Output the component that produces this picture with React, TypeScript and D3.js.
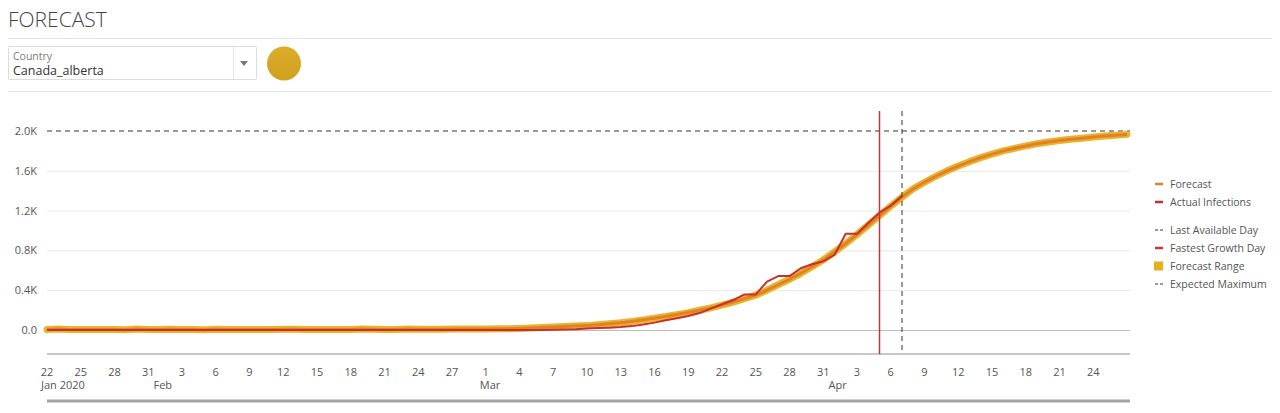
import React from "react";
import * as d3 from "d3";

const width = 1280;
const height = 413;

// first day of the series
const startDay = new Date(Date.UTC(2020, 0, 22));

// forecast, one value per day from Jan 22 to Apr 27
const forecast = [
  4, 9, 6, 4, 6, 5, 4, 2, 9, 6, 5, 7, 6, 4, 2, 8, 6, 5, 6, 5,
  4, 8, 7, 5, 6, 5, 4, 6, 9, 7, 6, 5, 9, 8, 7, 8, 10, 9, 11, 10,
  12, 13, 16, 20, 25, 30, 35, 40, 44, 52, 62, 72, 86, 102, 118, 135,
  155, 175, 198, 222, 250, 280, 315, 350, 400, 455, 510, 570, 635, 705,
  785, 870, 960, 1055, 1150, 1245, 1335, 1420, 1485, 1545, 1600, 1648,
  1692, 1732, 1768, 1800, 1826, 1850, 1872, 1890, 1905, 1918, 1928, 1940,
  1950, 1958, 1966,
];

// actual infections, Jan 22 to Apr 7
const actual = [
  0, 0, 0, 0, 0, 0, 0, 0, 0, 0, 0, 0, 0, 0, 0, 0, 0, 0, 0, 0,
  0, 0, 0, 0, 0, 0, 0, 0, 0, 0, 0, 0, 0, 0, 0, 0, 0, 0, 0, 0,
  0, 0, 0, 1, 1, 2, 4, 7, 14, 19, 23, 29, 39, 56, 74, 97, 119, 140,
  170, 215, 259, 301, 358, 358, 486, 542, 542, 621, 661, 690, 754,
  968, 968, 1075, 1181, 1250, 1348,
];

const expectedMaximum = 2000;
const fastestGrowthDay = new Date(Date.UTC(2020, 3, 5));
const lastAvailableDay = new Date(Date.UTC(2020, 3, 7));

const yTicks = [0, 400, 800, 1200, 1600, 2000];
const yTickLabels = ["0.0", "0.4K", "0.8K", "1.2K", "1.6K", "2.0K"];

const monthLabels = ["Jan 2020", "Feb", "Mar", "Apr"];
const monthStarts = [
  new Date(Date.UTC(2020, 0, 22)),
  new Date(Date.UTC(2020, 1, 1)),
  new Date(Date.UTC(2020, 2, 1)),
  new Date(Date.UTC(2020, 3, 1)),
];

const legendItems = [
  { label: "Forecast", kind: "line", color: "#e2802a" },
  { label: "Actual Infections", kind: "line", color: "#c8302f" },
  { label: "Last Available Day", kind: "dash", color: "#333" },
  { label: "Fastest Growth Day", kind: "line", color: "#b8393d" },
  { label: "Forecast Range", kind: "square", color: "#e3b21e" },
  { label: "Expected Maximum", kind: "dash", color: "#333" },
];
const legendY = [184, 202, 230, 248, 266, 284];

const font = "'Open Sans', 'Noto Sans', sans-serif";

export default function App() {
  const left = 47;
  const right = 1130;
  const plotTop = 111;
  const plotBottom = 354;

  const dates = forecast.map((_, i) => d3.utcDay.offset(startDay, i));
  const x = d3
    .scaleUtc()
    .domain([startDay, dates[dates.length - 1]])
    .range([left, 1127]);
  const y = d3.scaleLinear().domain([0, 2000]).range([330, 131]);

  // every third day, but not the last day at the right edge
  const ticks = dates.filter((_, i) => i % 3 === 0 && i < dates.length - 1);
  const dayFmt = d3.utcFormat("%-d");

  const line = d3
    .line<number>()
    .x((_, i) => x(dates[i]))
    .y((d) => y(d))
    .curve(d3.curveLinear);

  return (
    <svg
      width={width}
      height={height}
      style={{ position: "absolute", left: 0, top: 0, background: "#fff" }}
      fontFamily={font}
    >
      {/* header */}
      <text x={8} y={27} fontSize={21} fontWeight={300} fill="#444">
        FORECAST
      </text>
      <line x1={8} x2={1272} y1={38.5} y2={38.5} stroke="#e6e6e6" />
      <rect x={8.5} y={46.5} width={248} height={33} fill="#fff" stroke="#dcdcdc" rx={1} />
      <text x={13} y={60} fontSize={10.5} fill="#7a7a7a">
        Country
      </text>
      <text x={13} y={74.5} fontSize={12.5} fill="#333">
        Canada_alberta
      </text>
      <line x1={233.5} x2={233.5} y1={47} y2={79} stroke="#e6e6e6" />
      <path d="M240,61 L248,61 L244,66 Z" fill="#777" />
      <defs>
        <linearGradient id="gold" x1="0" y1="0" x2="0" y2="1">
          <stop offset="0" stopColor="#dcae2c" />
          <stop offset="1" stopColor="#cf9f1e" />
        </linearGradient>
      </defs>
      <circle cx={284} cy={63.5} r={17} fill="url(#gold)" />
      <line x1={8} x2={1272} y1={91.5} y2={91.5} stroke="#e6e6e6" />

      {/* grid */}
      {yTicks.map((t, i) => (
        <g key={t}>
          {t !== 0 && t !== expectedMaximum && (
            <line x1={left} x2={right} y1={y(t) + 0.5} y2={y(t) + 0.5} stroke="#e9e9e9" />
          )}
          {t === 0 && (
            <line x1={left} x2={right} y1={y(t) + 0.5} y2={y(t) + 0.5} stroke="#bdbdbd" />
          )}
          <text x={37} y={y(t) + 4} textAnchor="end" fontSize={11} fill="#555">
            {yTickLabels[i]}
          </text>
        </g>
      ))}
      <line x1={left} x2={right} y1={plotBottom} y2={plotBottom} stroke="#b5b5b5" strokeWidth={1.5} />

      {/* expected maximum */}
      <line
        x1={left}
        x2={right}
        y1={y(expectedMaximum)}
        y2={y(expectedMaximum)}
        stroke="#333"
        strokeDasharray="5,4"
      />

      {/* forecast range + forecast */}
      <path d={line(forecast) || ""} fill="none" stroke="#e8b52a" strokeWidth={7} strokeLinejoin="round" strokeLinecap="round" />
      <path d={line(forecast) || ""} fill="none" stroke="#e2802a" strokeWidth={3} strokeLinejoin="round" />

      {/* actual */}
      <path d={line(actual) || ""} fill="none" stroke="#c8302f" strokeWidth={2} strokeLinejoin="round" />

      {/* fastest growth & last available */}
      <line
        x1={x(fastestGrowthDay)}
        x2={x(fastestGrowthDay)}
        y1={plotTop}
        y2={plotBottom}
        stroke="#b8393d"
        strokeWidth={1.5}
      />
      <line
        x1={x(lastAvailableDay)}
        x2={x(lastAvailableDay)}
        y1={plotTop}
        y2={plotBottom}
        stroke="#333"
        strokeDasharray="5,4"
      />

      {/* x axis */}
      {ticks.map((t) => (
        <text key={+t} x={x(t)} y={376} textAnchor="middle" fontSize={11} fill="#555">
          {dayFmt(t)}
        </text>
      ))}
      {monthStarts.map((m, i) => (
        <text key={monthLabels[i]} x={x(m) - 6} y={389} fontSize={11} fill="#555">
          {monthLabels[i]}
        </text>
      ))}
      <line x1={left} x2={right} y1={401} y2={401} stroke="#a3a3a3" strokeWidth={3} />

      {/* legend */}
      {legendItems.map((it, i) => (
        <g key={it.label} transform={`translate(1155,${legendY[i]})`}>
          {it.kind === "line" && <line x1={0} x2={8} y1={0} y2={0} stroke={it.color} strokeWidth={2.5} />}
          {it.kind === "dash" && (
            <line x1={0} x2={8} y1={0} y2={0} stroke={it.color} strokeWidth={1} strokeDasharray="3,2" />
          )}
          {it.kind === "square" && <rect x={-1} y={-4.5} width={9} height={9} fill={it.color} />}
          <text x={15} y={4} fontSize={10.5} fill="#555">
            {it.label}
          </text>
        </g>
      ))}
    </svg>
  );
}
